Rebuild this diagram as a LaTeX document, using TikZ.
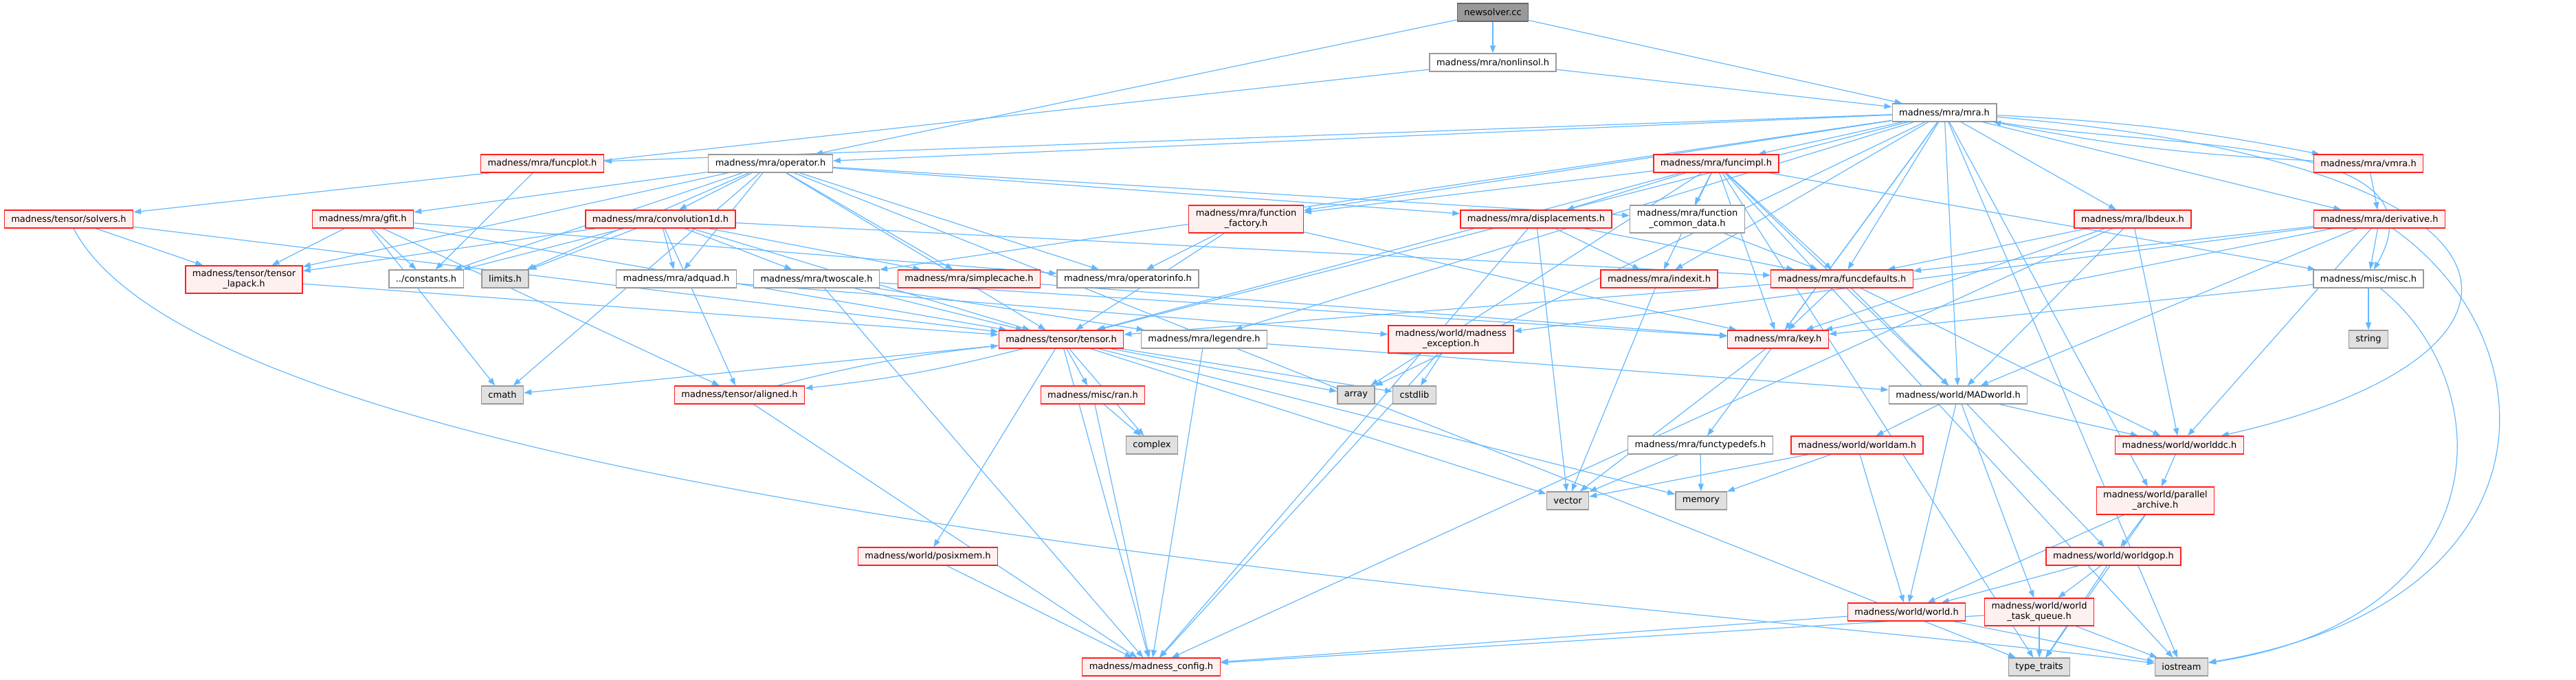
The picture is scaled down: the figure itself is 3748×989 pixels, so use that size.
\documentclass[tikz,border=0pt]{standalone}
\usepackage{fontspec}
\setmainfont{DejaVu Sans}
\usetikzlibrary{arrows.meta,backgrounds}
\definecolor{edgeblue}{HTML}{63B8FF}
\definecolor{redfill}{HTML}{FFF0F0}
\definecolor{redline}{HTML}{FF2020}
\definecolor{grayline}{HTML}{999999}
\definecolor{sysfill}{HTML}{E0E0E0}
\definecolor{rootfill}{HTML}{999999}
\definecolor{rootline}{HTML}{666666}
\tikzstyle{arrow} = [edgeblue, line width=1.2pt, -{Triangle[length=11pt,width=8pt]}]
\tikzstyle{hdr} = [draw=grayline, fill=white, line width=1.3pt, minimum height=26pt, inner xsep=10pt, inner ysep=4pt, align=center]
\tikzstyle{redhdr} = [hdr, draw=redline, fill=redfill]
\tikzstyle{syshdr} = [hdr, fill=sysfill]
\tikzstyle{rootfile} = [hdr, draw=rootline, fill=rootfill]
\tikzstyle{twoline} = [minimum height=40pt]

\begin{document}
\begin{tikzpicture}[x=1pt, y=-1pt, font=\fontsize{13}{15}\selectfont]
  \useasboundingbox (0,0) rectangle (3748,989);
  % row 0-2
  \node[rootfile] (newsolver) at (2172,18) {newsolver.cc};
  \node[hdr] (nonlinsol) at (2172,91) {madness/mra/nonlinsol.h};
  \node[hdr] (mra) at (2829,164) {madness/mra/mra.h};
  \node[redhdr] (funcplot) at (789,238) {madness/mra/funcplot.h};
  \node[hdr] (operator) at (1121,238) {madness/mra/operator.h};
  \node[redhdr] (funcimpl) at (2497,238) {madness/mra/funcimpl.h};
  \node[redhdr] (vmra) at (3446,238) {madness/mra/vmra.h};
  % row 3
  \node[redhdr] (solvers) at (100,319) {madness/tensor/solvers.h};
  \node[redhdr] (gfit) at (528,319) {madness/mra/gfit.h};
  \node[redhdr] (convolution) at (961,319) {madness/mra/convolution1d.h};
  \node[redhdr, twoline] (factory) at (1813,319) {madness/mra/function\\\_factory.h};
  \node[redhdr] (displacements) at (2235,319) {madness/mra/displacements.h};
  \node[hdr, twoline] (commondata) at (2455,319) {madness/mra/function\\\_common\_data.h};
  \node[redhdr] (lbdeux) at (3103,319) {madness/mra/lbdeux.h};
  \node[redhdr] (derivative) at (3462,319) {madness/mra/derivative.h};
  % row 4
  \node[redhdr, twoline] (lapack) at (355,407) {madness/tensor/tensor\\\_lapack.h};
  \node[hdr] (constants) at (620,406) {../constants.h};
  \node[syshdr] (limits) at (735,406) {limits.h};
  \node[hdr] (adquad) at (984,406) {madness/mra/adquad.h};
  \node[hdr] (twoscale) at (1188,406) {madness/mra/twoscale.h};
  \node[redhdr] (simplecache) at (1410,406) {madness/mra/simplecache.h};
  \node[hdr] (operatorinfo) at (1641,406) {madness/mra/operatorinfo.h};
  \node[redhdr] (indexit) at (2414,406) {madness/mra/indexit.h};
  \node[redhdr] (funcdefaults) at (2680,406) {madness/mra/funcdefaults.h};
  \node[hdr] (misc) at (3446,406) {madness/misc/misc.h};
  % row 5
  \node[redhdr] (tensor) at (1544,494) {madness/tensor/tensor.h};
  \node[hdr] (legendre) at (1752,494) {madness/mra/legendre.h};
  \node[redhdr, twoline] (exception) at (2111,494) {madness/world/madness\\\_exception.h};
  \node[redhdr] (key) at (2587,494) {madness/mra/key.h};
  \node[syshdr] (string) at (3446,494) {string};
  % row 6
  \node[syshdr] (cmath) at (731,575) {cmath};
  \node[redhdr] (aligned) at (1076,575) {madness/tensor/aligned.h};
  \node[redhdr] (ran) at (1590,575) {madness/misc/ran.h};
  \node[syshdr] (array) at (1973,575) {array};
  \node[syshdr] (cstdlib) at (2058,575) {cstdlib};
  \node[hdr] (madworld) at (2849,575) {madness/world/MADworld.h};
  % row 7
  \node[syshdr] (complex) at (1676,648) {complex};
  \node[hdr] (functypedefs) at (2474,648) {madness/mra/functypedefs.h};
  \node[redhdr] (worldam) at (2702,648) {madness/world/worldam.h};
  \node[redhdr] (worlddc) at (3171,648) {madness/world/worlddc.h};
  \node[syshdr] (vector) at (2281,729) {vector};
  \node[syshdr] (memory) at (2475,729) {memory};
  \node[redhdr, twoline] (parallel) at (3136,729) {madness/world/parallel\\\_archive.h};
  % bottom rows
  \node[redhdr] (posixmem) at (1350,810) {madness/world/posixmem.h};
  \node[redhdr] (worldgop) at (3075,810) {madness/world/worldgop.h};
  \node[redhdr] (world) at (2774,891) {madness/world/world.h};
  \node[redhdr, twoline] (taskqueue) at (2967,891) {madness/world/world\\\_task\_queue.h};
  \node[redhdr] (config) at (1675,971) {madness/madness\_config.h};
  \node[syshdr] (typetraits) at (2967,971) {type\_traits};
  \node[syshdr] (iostream) at (3174,971) {iostream};

  \begin{scope}[on background layer]
  % from the top
  \draw[arrow] (newsolver) -- (nonlinsol);
  \draw[arrow] (newsolver) -- (operator);
  \draw[arrow] (newsolver) -- (mra);
  \draw[arrow] (nonlinsol) -- (mra);
  \draw[arrow] (nonlinsol) -- (solvers);
  % mra.h
  \draw[arrow] (mra) -- (funcplot);
  \draw[arrow] (mra) -- (operator);
  \draw[arrow] (mra) -- (funcimpl);
  \draw[arrow] (mra) to[bend left=4] (vmra);
  \draw[arrow] (mra) -- (lbdeux);
  \draw[arrow] (mra) -- (derivative);
  \draw[arrow] (mra) to[out=-10, in=60] (misc);
  \draw[arrow] (mra) .. controls (3740,240) and (3740,520) .. (worlddc);
  \draw[arrow] (mra) -- (funcdefaults);
  \draw[arrow] (mra) -- (key);
  \draw[arrow] (mra) -- (indexit);
  \draw[arrow] (mra) -- (tensor);
  \draw[arrow] (mra) -- (twoscale);
  \draw[arrow] (mra) -- (factory);
  \draw[arrow] (mra) -- (madworld);
  \draw[arrow] (mra) -- (parallel);
  \draw[arrow] (mra) -- (iostream);
  \draw[arrow] (mra) -- (array);
  \draw[arrow] (mra) -- (legendre);
  \draw[arrow] (mra) -- (functypedefs);
  \draw[arrow] (vmra) to[bend left=4] (mra);
  \draw[arrow] (vmra) -- (derivative);
  % operator.h and friends
  \draw[arrow] (funcplot) -- (constants);
  \draw[arrow] (operator) -- (gfit);
  \draw[arrow] (operator) -- (convolution);
  \draw[arrow] (operator) -- (lapack);
  \draw[arrow] (operator) -- (constants);
  \draw[arrow] (operator) -- (limits);
  \draw[arrow] (operator) -- (adquad);
  \draw[arrow] (operator) -- (simplecache);
  \draw[arrow] (operator) -- (operatorinfo);
  \draw[arrow] (operator) -- (displacements);
  \draw[arrow] (operator) -- (commondata);
  \draw[arrow] (operator) -- (tensor);
  \draw[arrow] (operator) -- (cmath);
  \draw[arrow] (operator) -- (typetraits);
  \draw[arrow] (solvers) -- (lapack);
  \draw[arrow] (solvers) -- (tensor);
  \draw[arrow] (solvers) .. controls (330,760) and (2500,880) .. (iostream);
  \draw[arrow] (gfit) -- (lapack);
  \draw[arrow] (gfit) -- (constants);
  \draw[arrow] (gfit) -- (tensor);
  \draw[arrow] (gfit) -- (aligned);
  \draw[arrow] (gfit) -- (operatorinfo);
  \draw[arrow] (gfit) -- (cmath);
  \draw[arrow] (convolution) -- (lapack);
  \draw[arrow] (convolution) -- (constants);
  \draw[arrow] (convolution) -- (limits);
  \draw[arrow] (convolution) -- (adquad);
  \draw[arrow] (convolution) -- (twoscale);
  \draw[arrow] (convolution) -- (simplecache);
  \draw[arrow] (convolution) -- (tensor);
  \draw[arrow] (convolution) -- (aligned);
  \draw[arrow] (convolution) -- (funcdefaults);
  \draw[arrow] (lapack) -- (tensor);
  \draw[arrow] (adquad) -- (exception);
  \draw[arrow] (twoscale) -- (tensor);
  \draw[arrow] (twoscale) -- (legendre);
  \draw[arrow] (twoscale) -- (key);
  \draw[arrow] (twoscale) -- (config);
  \draw[arrow] (simplecache) -- (key);
  \draw[arrow] (factory) -- (operatorinfo);
  \draw[arrow] (factory) -- (tensor);
  \draw[arrow] (factory) -- (key);
  % funcimpl.h
  \draw[arrow] (funcimpl) -- (factory);
  \draw[arrow] (funcimpl) -- (displacements);
  \draw[arrow] (funcimpl) -- (commondata);
  \draw[arrow] (funcimpl) -- (indexit);
  \draw[arrow] (funcimpl) -- (funcdefaults);
  \draw[arrow] (funcimpl) -- (key);
  \draw[arrow] (funcimpl) -- (misc);
  \draw[arrow] (funcimpl) -- (madworld);
  \draw[arrow] (funcimpl) -- (tensor);
  \draw[arrow] (funcimpl) -- (array);
  \draw[arrow] (funcimpl) -- (typetraits);
  \draw[arrow] (funcimpl) -- (iostream);
  \draw[arrow] (displacements) -- (indexit);
  \draw[arrow] (displacements) -- (funcdefaults);
  \draw[arrow] (displacements) -- (vector);
  \draw[arrow] (displacements) -- (config);
  \draw[arrow] (commondata) -- (funcdefaults);
  \draw[arrow] (indexit) -- (vector);
  \draw[arrow] (funcdefaults) -- (key);
  \draw[arrow] (funcdefaults) -- (madworld);
  \draw[arrow] (funcdefaults) -- (worlddc);
  \draw[arrow] (funcdefaults) -- (tensor);
  \draw[arrow] (lbdeux) -- (funcdefaults);
  \draw[arrow] (lbdeux) -- (key);
  \draw[arrow] (lbdeux) -- (madworld);
  \draw[arrow] (lbdeux) -- (worlddc);
  \draw[arrow] (lbdeux) -- (config);
  \draw[arrow] (derivative) -- (funcdefaults);
  \draw[arrow] (derivative) -- (misc);
  \draw[arrow] (derivative) -- (key);
  \draw[arrow] (derivative) -- (madworld);
  \draw[arrow] (derivative) -- (worlddc);
  \draw[arrow] (derivative) .. controls (3720,500) and (3720,880) .. (iostream);
  \draw[arrow] (derivative) -- (exception);
  \draw[arrow] (misc) -- (string);
  \draw[arrow] (misc) -- (key);
  \draw[arrow] (misc) .. controls (3640,560) and (3640,900) .. (iostream);
  % tensor.h
  \draw[arrow] (tensor) -- (cmath);
  \draw[arrow] (tensor) to[bend left=4] (aligned);
  \draw[arrow] (tensor) -- (ran);
  \draw[arrow] (tensor) -- (complex);
  \draw[arrow] (tensor) -- (posixmem);
  \draw[arrow] (tensor) -- (config);
  \draw[arrow] (tensor) -- (array);
  \draw[arrow] (tensor) -- (cstdlib);
  \draw[arrow] (tensor) -- (vector);
  \draw[arrow] (tensor) -- (memory);
  \draw[arrow] (aligned) to[bend left=4] (tensor);
  \draw[arrow] (aligned) -- (config);
  \draw[arrow] (legendre) -- (madworld);
  \draw[arrow] (legendre) -- (config);
  \draw[arrow] (exception) -- (cstdlib);
  \draw[arrow] (exception) -- (config);
  \draw[arrow] (key) -- (vector);
  \draw[arrow] (ran) -- (complex);
  \draw[arrow] (ran) -- (config);
  \draw[arrow] (posixmem) -- (config);
  \draw[arrow] (functypedefs) -- (vector);
  \draw[arrow] (functypedefs) -- (memory);
  % world
  \draw[arrow] (madworld) -- (worldam);
  \draw[arrow] (madworld) -- (worlddc);
  \draw[arrow] (madworld) -- (world);
  \draw[arrow] (madworld) -- (worldgop);
  \draw[arrow] (madworld) -- (taskqueue);
  \draw[arrow] (worldam) -- (vector);
  \draw[arrow] (worldam) -- (memory);
  \draw[arrow] (worldam) -- (world);
  \draw[arrow] (worlddc) -- (parallel);
  \draw[arrow] (parallel) -- (worldgop);
  \draw[arrow] (parallel) -- (world);
  \draw[arrow] (parallel) -- (typetraits);
  \draw[arrow] (worldgop) -- (world);
  \draw[arrow] (worldgop) -- (taskqueue);
  \draw[arrow] (worldgop) -- (typetraits);
  \draw[arrow] (world) -- (config);
  \draw[arrow] (world) -- (iostream);
  \draw[arrow] (taskqueue) -- (config);
  \draw[arrow] (taskqueue) -- (typetraits);
  \draw[arrow] (taskqueue) -- (iostream);
  \end{scope}
\end{tikzpicture}
\end{document}
